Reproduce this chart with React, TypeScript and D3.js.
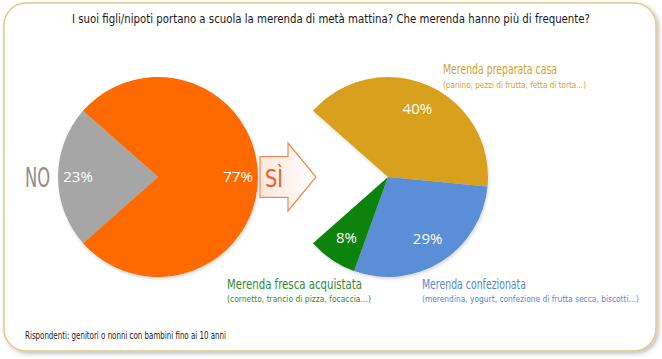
import React from "react";
import * as d3 from "d3";

const leftCategories = ["NO", "SÌ"];
const leftValues = [23, 77];
const leftColors = ["#a6a6a6", "#ff6a00"];

const rightCategories = ["Gap", "Merenda preparata casa", "Merenda confezionata", "Merenda fresca acquistata"];
const rightValues = [23, 40, 29, 8];
const rightColors = ["none", "#d8a01b", "#5a8fd8", "#0a820a"];

const title = "I suoi figli/nipoti portano a scuola la merenda di metà mattina? Che merenda hanno più di frequente?";
const footer = "Rispondenti: genitori o nonni con bambini fino ai 10 anni";

const W = 662;
const H = 359;
const R = 100;
const cond = "'DejaVu Sans Condensed', 'Liberation Sans Narrow', 'Liberation Sans', sans-serif";
const pctFont = "'Open Sans', Lato, sans-serif";

export default function App() {
  const gapHalf = (leftValues[0] / 100) * Math.PI;
  const start = 1.5 * Math.PI - gapHalf;
  const pie = d3.pie<number>().sort(null).startAngle(start).endAngle(start + 2 * Math.PI);
  const arc = d3.arc<d3.PieArcDatum<number>>().innerRadius(0).outerRadius(R);
  const lab = d3.arc<d3.PieArcDatum<number>>().innerRadius(80).outerRadius(80);
  const labR = d3.arc<d3.PieArcDatum<number>>().innerRadius(74).outerRadius(74);
  const leftArcs = pie(leftValues);
  const rightArcs = pie(rightValues);

  const lc = { x: 158, y: 177 };
  const rc = { x: 388, y: 177 };

  const ax = d3.scaleLinear().domain([0, 1]).range([260, 316]);
  const ay = d3.scaleLinear().domain([0, 1]).range([143, 211]);
  const arrowPts: [number, number][] = [
    [0, 0.2], [0.5, 0.2], [0.5, 0], [1, 0.5], [0.5, 1], [0.5, 0.8], [0, 0.8],
  ];
  const arrowPath = d3.line()(arrowPts.map(([x, y]) => [ax(x), ay(y)])) + "Z";

  return (
    <svg width={W} height={H} style={{ position: "absolute", left: 0, top: 0, background: "#fff" }}>
      <defs>
        <filter id="sh" x="-10%" y="-10%" width="120%" height="120%">
          <feDropShadow dx="2" dy="2" stdDeviation="2" floodColor="#000" floodOpacity="0.25" />
        </filter>
        <filter id="psh" x="-10%" y="-10%" width="120%" height="120%">
          <feDropShadow dx="1" dy="2" stdDeviation="1.5" floodColor="#000" floodOpacity="0.15" />
        </filter>
        <linearGradient id="ag" x1="0" x2="1" y1="0" y2="0">
          <stop offset="0" stopColor="#fde7da" />
          <stop offset="1" stopColor="#ffffff" />
        </linearGradient>
      </defs>
      <rect x={4} y={3} width={652} height={348} rx={22} ry={22} fill="#fff" stroke="#e2c98a" strokeWidth={1.5} filter="url(#sh)" />

      <text x={331} y={23} textAnchor="middle" fontFamily={cond} fontSize={12} fill="#1a1a1a" textLength={518} lengthAdjust="spacingAndGlyphs">{title}</text>

      <g transform={`translate(${lc.x},${lc.y})`} filter="url(#psh)">
        {leftArcs.map((a, i) => (
          <path key={leftCategories[i]} d={arc(a) || ""} fill={leftColors[i]} />
        ))}
      </g>
      <g transform={`translate(${lc.x},${lc.y})`}>
        {leftArcs.map((a, i) => {
          const [x, y] = lab.centroid(a);
          return (
            <text key={i} x={x} y={y + 5} textAnchor="middle" fontFamily={pctFont} fontSize={15} fill="#fff">{leftValues[i]}%</text>
          );
        })}
      </g>
      <text x={25} y={187} fontFamily={cond} fontSize={27} fill="#8c8c8c" textLength={25} lengthAdjust="spacingAndGlyphs">NO</text>

      <path d={arrowPath} fill="url(#ag)" stroke="#ef8a52" strokeWidth={1.2} />
      <text x={265} y={187} fontFamily={cond} fontSize={25} fill="#e8622a" textLength={18} lengthAdjust="spacingAndGlyphs">SÌ</text>

      <g transform={`translate(${rc.x},${rc.y})`} filter="url(#psh)">
        {rightArcs.map((a, i) => i === 0 ? null : (
          <path key={rightCategories[i]} d={arc(a) || ""} fill={rightColors[i]} />
        ))}
      </g>
      <g transform={`translate(${rc.x},${rc.y})`}>
        {rightArcs.map((a, i) => {
          if (i === 0) return null;
          const [x, y] = labR.centroid(a);
          return (
            <text key={i} x={x} y={y + 5} textAnchor="middle" fontFamily={pctFont} fontSize={15} fill="#fff">{rightValues[i]}%</text>
          );
        })}
      </g>

      <text x={443} y={74} fontFamily={cond} fontSize={14.5} fill="#d4a02c" textLength={114} lengthAdjust="spacingAndGlyphs">{rightCategories[1]}</text>
      <text x={443} y={88} fontFamily={cond} fontSize={9.5} fill="#d4a02c" textLength={143} lengthAdjust="spacingAndGlyphs">(panino, pezzi di frutta, fetta di torta...)</text>

      <text x={227} y={289} fontFamily={cond} fontSize={14.5} fill="#2f8a36" textLength={135} lengthAdjust="spacingAndGlyphs">{rightCategories[3]}</text>
      <text x={227} y={302} fontFamily={cond} fontSize={9.5} fill="#2f8a36" textLength={144} lengthAdjust="spacingAndGlyphs">(cornetto, trancio di pizza, focaccia…)</text>

      <text x={422} y={289} fontFamily={cond} fontSize={14.5} fill="#5b88d0" textLength={104} lengthAdjust="spacingAndGlyphs">{rightCategories[2]}</text>
      <text x={422} y={302} fontFamily={cond} fontSize={9} fill="#5b88d0" textLength={217} lengthAdjust="spacingAndGlyphs">(merendina, yogurt, confezione di frutta secca, biscotti…)</text>

      <text x={25} y={339} fontFamily={cond} fontSize={10} fill="#1a1a1a" textLength={201} lengthAdjust="spacingAndGlyphs">{footer}</text>
    </svg>
  );
}
